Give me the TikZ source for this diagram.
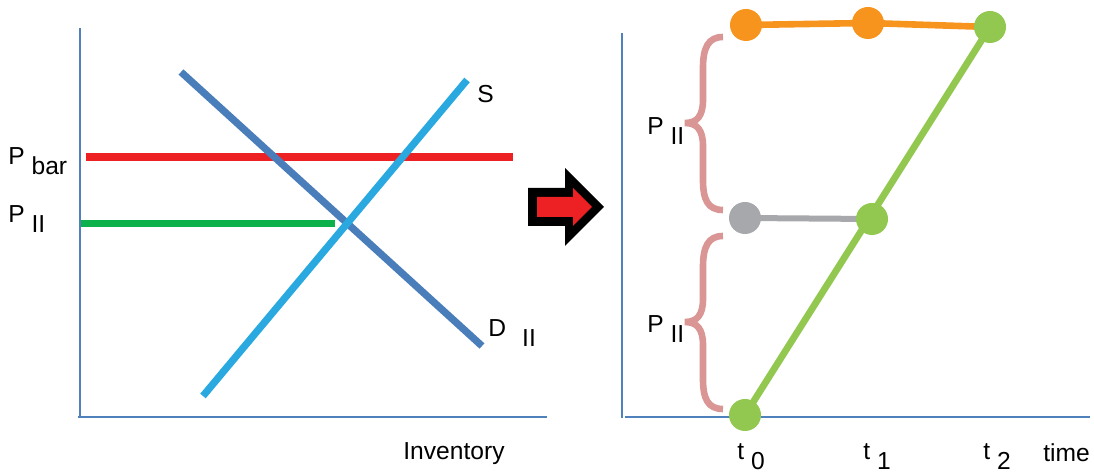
\documentclass[tikz,border=0pt]{standalone}
\usepackage{fontspec}
\setmainfont{Liberation Sans}
\definecolor{axisblue}{HTML}{4F81BD}
\definecolor{demblue}{HTML}{4A7EBB}
\definecolor{supblue}{HTML}{2AA9E0}
\definecolor{pbarred}{HTML}{ED2024}
\definecolor{piigreen}{HTML}{0DB14B}
\definecolor{dotgreen}{HTML}{92C850}
\definecolor{dotorange}{HTML}{F7941E}
\definecolor{dotgray}{HTML}{A6A8AB}
\definecolor{bracepink}{HTML}{D99694}
\newcommand{\lowsub}[1]{\raisebox{-5pt}{#1}}
\tikzset{
  axis/.style={draw=axisblue, line width=1.1pt},
  lbl/.style={anchor=base west, inner sep=0pt, font=\fontsize{12.3}{14}\selectfont},
  dot/.style={circle, inner sep=0pt, minimum size=16pt},
  bracepath/.style={draw=bracepink, line width=3.3pt},
  mybrace/.pic={
    \path[bracepath] (38,-86) .. controls (23,-86) and (18,-75) .. (18,-55) -- (18,-23)
      .. controls (18,-7) and (12,0) .. (0,0)
      .. controls (12,0) and (18,7) .. (18,23) -- (18,57)
      .. controls (18,77) and (23,87) .. (38,87);
  }
}
\begin{document}
\begin{tikzpicture}[x=0.5pt, y=-0.5pt]
\useasboundingbox (0,0) rectangle (1094,475);
% ---------------- left panel ----------------
\coordinate (lo) at (80,417);
\coordinate (ltop) at (80,28);
\coordinate (lend) at (547,417);
\draw[axis] (ltop) -- (lo);
\draw[axis] (78,417) -- (lend);
\coordinate (d1) at (181,72);
\coordinate (d2) at (482,346);
\coordinate (s1) at (203,396);
\coordinate (s2) at (467,80);
\coordinate (r1) at (86,157);
\coordinate (r2) at (513,157);
\coordinate (g1) at (81,224);
\coordinate (g2) at (335,224);
\draw[pbarred, line width=3.8pt] (r1) -- (r2);
\draw[piigreen, line width=3.5pt] (g1) -- (g2);
\draw[demblue, line width=3.6pt] (d1) -- (d2);
\draw[supblue, line width=3.6pt] (s1) -- (s2);
\node[lbl] (pbar) at (8,165) {P \lowsub{bar}};
\node[lbl] (pii) at (8,223) {P \lowsub{II}};
\node[lbl] (slab) at (477,103) {S};
\node[lbl] (dlab) at (488,337) {D\hspace{8pt}\lowsub{II}};
\node[lbl] (inv) at (403,460) {Inventory};
% ---------------- arrow ----------------
\fill[black] (528,188) -- (565,188) -- (565,168) -- (604,207) -- (565,246) -- (565,226) -- (528,226) -- cycle;
\fill[pbarred] (537,197) -- (573,197) -- (573,188) -- (592,207) -- (573,226) -- (573,217) -- (537,217) -- cycle;
% ---------------- right panel ----------------
\draw[axis] (622,33) -- (622,418);
\draw[axis] (625,417) -- (1090,417);
\coordinate (o0) at (746,25);
\coordinate (o1) at (868,23);
\coordinate (gr0) at (745,218);
\coordinate (gt0) at (745,415);
\coordinate (gt1) at (872,219);
\coordinate (gt2) at (990,27);
\draw[dotorange, line width=3.3pt] (o0) -- (o1) -- (gt2);
\draw[dotgray, line width=3pt] (gr0) -- (gt1);
\draw[dotgreen, line width=3.4pt] (gt0) -- (gt2);
\node[dot, fill=dotorange] (no0) at (o0) {};
\node[dot, fill=dotorange] (no1) at (o1) {};
\node[dot, fill=dotgray] (ngr0) at (gr0) {};
\node[dot, fill=dotgreen] (ngt0) at (gt0) {};
\node[dot, fill=dotgreen] (ngt1) at (gt1) {};
\node[dot, fill=dotgreen] (ngt2) at (gt2) {};
\pic at (685,123) {mybrace};
\pic at (685,322) {mybrace};
\node[lbl] (pu) at (647,135) {P \lowsub{II}};
\node[lbl] (pl) at (647,333) {P \lowsub{II}};
\node[lbl] (t0) at (737,460) {t \lowsub{0}};
\node[lbl] (t1) at (863,460) {t \lowsub{1}};
\node[lbl] (t2) at (983,460) {t \lowsub{2}};
\node[lbl] (time) at (1043,462) {time};
\end{tikzpicture}
\end{document}
